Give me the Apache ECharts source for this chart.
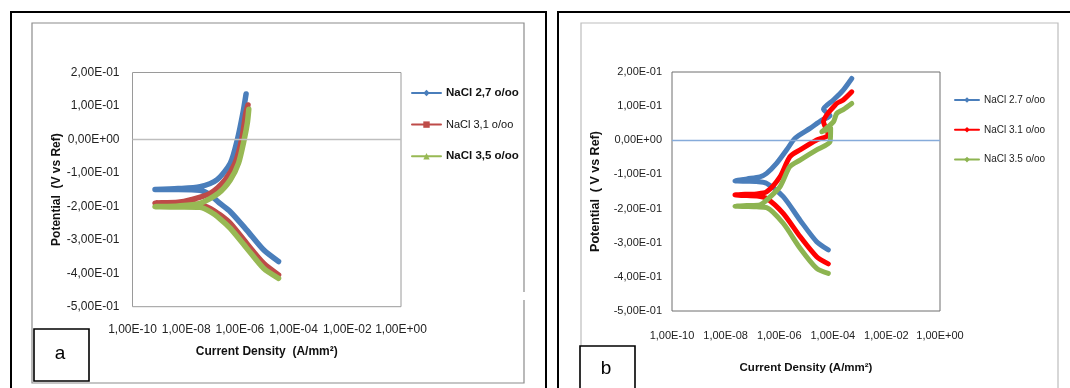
<!DOCTYPE html>
<html><head><meta charset="utf-8">
<script src="https://cdn.jsdelivr.net/npm/echarts@6/dist/echarts.min.js"></script>
<style>html,body{margin:0;padding:0;background:#fff}#c{width:1070px;height:388px}</style>
</head><body><div id="c"></div>
<script>
// ---- tick labels ----
const xTickLabels = ['1,00E-10','1,00E-08','1,00E-06','1,00E-04','1,00E-02','1,00E+00'];
const yTickLabels = ['-5,00E-01','-4,00E-01','-3,00E-01','-2,00E-01','-1,00E-01','0,00E+00','1,00E-01','2,00E-01'];

// ---- panel a series names ----
const namesA = ['NaCl 2,7 o/oo','NaCl 3,1 o/oo','NaCl 3,5 o/oo'];
// ---- panel b series names ----
const namesB = ['NaCl 2.7 o/oo','NaCl 3.1 o/oo','NaCl 3.5 o/oo'];

// [current density (A/mm2), potential (V vs Ref)] — panel a
const a27 = [[2.75e-5,-0.365],[7.6e-6,-0.330],[1.8e-6,-0.271],[4.4e-7,-0.216],[1.86e-7,-0.192],[7.8e-8,-0.166],[3.2e-8,-0.152],[5.0e-9,-0.150],[6.9e-10,-0.150],[5.0e-9,-0.147],[3.3e-8,-0.141],[1.38e-7,-0.121],[4.4e-7,-0.071],[8.1e-7,0.0],[1.29e-6,0.078],[1.7e-6,0.136]];
const a31 = [[2.75e-5,-0.405],[7.6e-6,-0.370],[1.8e-6,-0.311],[4.4e-7,-0.251],[1.86e-7,-0.226],[7.8e-8,-0.206],[3.2e-8,-0.195],[5.0e-9,-0.192],[6.9e-10,-0.190],[5.0e-9,-0.188],[1.41e-8,-0.181],[7.8e-8,-0.161],[2.8e-7,-0.121],[6.6e-7,-0.071],[1.17e-6,0.0],[1.66e-6,0.078],[2.0e-6,0.103]];
const a35 = [[2.75e-5,-0.415],[7.6e-6,-0.385],[1.8e-6,-0.325],[4.4e-7,-0.266],[1.86e-7,-0.238],[7.8e-8,-0.216],[3.2e-8,-0.203],[5.0e-9,-0.202],[6.9e-10,-0.201],[5.0e-9,-0.199],[3.3e-8,-0.191],[1.58e-7,-0.161],[4.4e-7,-0.121],[8.9e-7,-0.071],[1.45e-6,0.0],[1.9e-6,0.050],[2.14e-6,0.090]];

// panel b
const b27 = [[6.8e-5,-0.321],[2.5e-5,-0.297],[6.0e-6,-0.234],[1.41e-6,-0.165],[3.4e-7,-0.126],[1.45e-7,-0.121],[6.3e-8,-0.120],[2.24e-8,-0.119],[6.3e-8,-0.113],[1.9e-7,-0.107],[3.4e-7,-0.097],[8.1e-7,-0.067],[1.9e-6,-0.028],[3.9e-6,0.006],[1.41e-5,0.035],[3.9e-5,0.059],[7.9e-5,0.072],[4.5e-5,0.091],[1.05e-4,0.118],[2.45e-4,0.147],[5.1e-4,0.181]];
const b31 = [[6.8e-5,-0.362],[2.5e-5,-0.341],[6.0e-6,-0.282],[1.41e-6,-0.214],[3.4e-7,-0.170],[1.45e-7,-0.163],[6.3e-8,-0.162],[2.24e-8,-0.160],[6.3e-8,-0.158],[1.45e-7,-0.157],[3.4e-7,-0.151],[1.07e-6,-0.107],[2.5e-6,-0.048],[6.0e-6,-0.028],[2.5e-5,0.001],[6.8e-5,0.016],[4.5e-5,0.055],[1.41e-4,0.108],[2.45e-4,0.118],[5.1e-4,0.142]];
const b35 = [[6.8e-5,-0.390],[2.5e-5,-0.375],[6.0e-6,-0.316],[1.41e-6,-0.243],[3.4e-7,-0.197],[1.45e-7,-0.195],[6.3e-8,-0.194],[2.24e-8,-0.193],[6.3e-8,-0.191],[1.9e-7,-0.189],[3.4e-7,-0.175],[1.07e-6,-0.136],[2.5e-6,-0.077],[6.0e-6,-0.058],[2.5e-5,-0.028],[7.9e-5,-0.004],[8.3e-5,0.035],[3.9e-5,0.025],[1.05e-4,0.054],[1.41e-4,0.079],[2.45e-4,0.090],[5.1e-4,0.108]];

const colorsA = ['#4A7EBB','#BE4B48','#98B954'];
const colorsB = ['#4A7EBB','#FF0000','#8DB451'];
const symbolsA = ['diamond','rect','triangle'];
const symbolsB = ['diamond','diamond','diamond'];

const fontA = "'Liberation Sans', Arial, sans-serif";
const fontB = "'Liberation Sans', Arial, sans-serif";

const xFmt = v => xTickLabels[Math.round(Math.log10(v) / 2) + 5];
const yFmt = v => yTickLabels[Math.round(v * 10) + 5];

function xAxisCfg(grid, font, fs, margin, name, nameFs, nameGap) {
  return {
    type: 'log', logBase: 100, gridIndex: grid, min: 1e-10, max: 1,
    axisLine: {show: false}, axisTick: {show: false}, splitLine: {show: false},
    axisLabel: {formatter: xFmt, fontSize: fs, fontFamily: font, color: '#222', margin: margin, showMinLabel: true, showMaxLabel: true, hideOverlap: false},
    name: name, nameLocation: 'middle', nameGap: nameGap,
    nameTextStyle: {fontSize: nameFs, fontWeight: 'bold', fontFamily: font, color: '#111'}
  };
}
function yAxisCfg(grid, font, fs, margin, name, nameFs, nameGap) {
  return {
    type: 'value', gridIndex: grid, min: -0.5, max: 0.2, interval: 0.1,
    axisLine: {show: false}, axisTick: {show: false}, splitLine: {show: false},
    axisLabel: {formatter: yFmt, fontSize: fs, fontFamily: font, color: '#222', margin: margin},
    name: name, nameLocation: 'middle', nameRotate: 90, nameGap: nameGap,
    nameTextStyle: {fontSize: nameFs, fontWeight: 'bold', fontFamily: fontA, color: '#111'}
  };
}
function mk(name, data, color, symbol, xi, width, zeroColor) {
  const s = {
    name: name, type: 'line', xAxisIndex: xi, yAxisIndex: xi, data: data,
    symbol: symbol, symbolSize: 6, showSymbol: false, smooth: 0.25,
    lineStyle: {color: color, width: width, cap: 'round', join: 'round'},
    itemStyle: {color: color}
  };
  if (zeroColor) {
    s.markLine = {silent: true, symbol: 'none', label: {show: false}, animation: false,
      lineStyle: {color: zeroColor, width: 1.3, type: 'solid'}, data: [{yAxis: 0}]};
  }
  return s;
}

const chart = echarts.init(document.getElementById('c'));
chart.setOption({
  animation: false,
  backgroundColor: '#fff',
  grid: [
    {left: 132.5, top: 72.5, width: 268.5, height: 234.2, show: true, borderColor: '#9A9A9A', borderWidth: 1},
    {left: 672, top: 72, width: 268, height: 239, show: true, borderColor: '#6E6E6E', borderWidth: 1}
  ],
  xAxis: [
    xAxisCfg(0, fontA, 12, 17, 'Current Density  (A/mm²)', 12, 39),
    xAxisCfg(1, fontB, 11, 19, 'Current Density (A/mm²)', 11.5, 51)
  ],
  yAxis: [
    yAxisCfg(0, fontA, 12, 13, 'Potential  (V vs Ref)', 12, 63),
    yAxisCfg(1, fontB, 11, 10, 'Potential  ( V vs Ref)', 12.5, 70)
  ],
  legend: [
    {orient: 'vertical', left: 406, top: 81, itemWidth: 29, itemHeight: 8, itemGap: 17.6,
     lineStyle: {width: 2}, textStyle: {fontFamily: fontA, color: '#111', lineHeight: 14},
     data: [
       {name: namesA[0], textStyle: {fontWeight: 'bold', fontSize: 11.5}},
       {name: namesA[1], textStyle: {fontWeight: 'normal', fontSize: 11}},
       {name: namesA[2], textStyle: {fontWeight: 'bold', fontSize: 11.5}}
     ]},
    {orient: 'vertical', left: 949, top: 88, itemWidth: 24, itemHeight: 7, itemGap: 15.8,
     lineStyle: {width: 2}, textStyle: {fontFamily: fontB, fontSize: 10, color: '#222', lineHeight: 14},
     data: namesB}
  ],
  graphic: [
    {type: 'rect', shape: {x: 11, y: 12, width: 535, height: 400}, style: {fill: 'none', stroke: '#000', lineWidth: 2}},
    {type: 'rect', shape: {x: 32, y: 23, width: 492, height: 360}, style: {fill: 'none', stroke: '#8C8C8C', lineWidth: 1.2}},
    {type: 'rect', shape: {x: 521, y: 292, width: 6, height: 8}, style: {fill: '#fff', stroke: 'none'}},
    {type: 'rect', shape: {x: 34, y: 329, width: 55, height: 52}, style: {fill: '#fff', stroke: '#000', lineWidth: 1.6}},
    {type: 'text', x: 60, y: 354, style: {text: 'a', fontSize: 19, fontFamily: fontA, fill: '#000', align: 'center', verticalAlign: 'middle'}},
    {type: 'rect', shape: {x: 558, y: 12, width: 540, height: 400}, style: {fill: 'none', stroke: '#000', lineWidth: 2}},
    {type: 'rect', shape: {x: 581, y: 23, width: 477, height: 400}, style: {fill: 'none', stroke: '#BDBDBD', lineWidth: 1.2}},
    {type: 'rect', shape: {x: 580, y: 346, width: 55, height: 60}, style: {fill: '#fff', stroke: '#000', lineWidth: 1.6}},
    {type: 'text', x: 606, y: 369, style: {text: 'b', fontSize: 19, fontFamily: fontA, fill: '#000', align: 'center', verticalAlign: 'middle'}}
  ],
  series: [
    mk(namesA[0], a27, colorsA[0], symbolsA[0], 0, 5.5, '#BEBEBE'),
    mk(namesA[1], a31, colorsA[1], symbolsA[1], 0, 5.5),
    mk(namesA[2], a35, colorsA[2], symbolsA[2], 0, 5.5),
    mk(namesB[0], b27, colorsB[0], symbolsB[0], 1, 5, '#86ABDA'),
    mk(namesB[1], b31, colorsB[1], symbolsB[1], 1, 5),
    mk(namesB[2], b35, colorsB[2], symbolsB[2], 1, 5)
  ]
});
</script></body></html>
